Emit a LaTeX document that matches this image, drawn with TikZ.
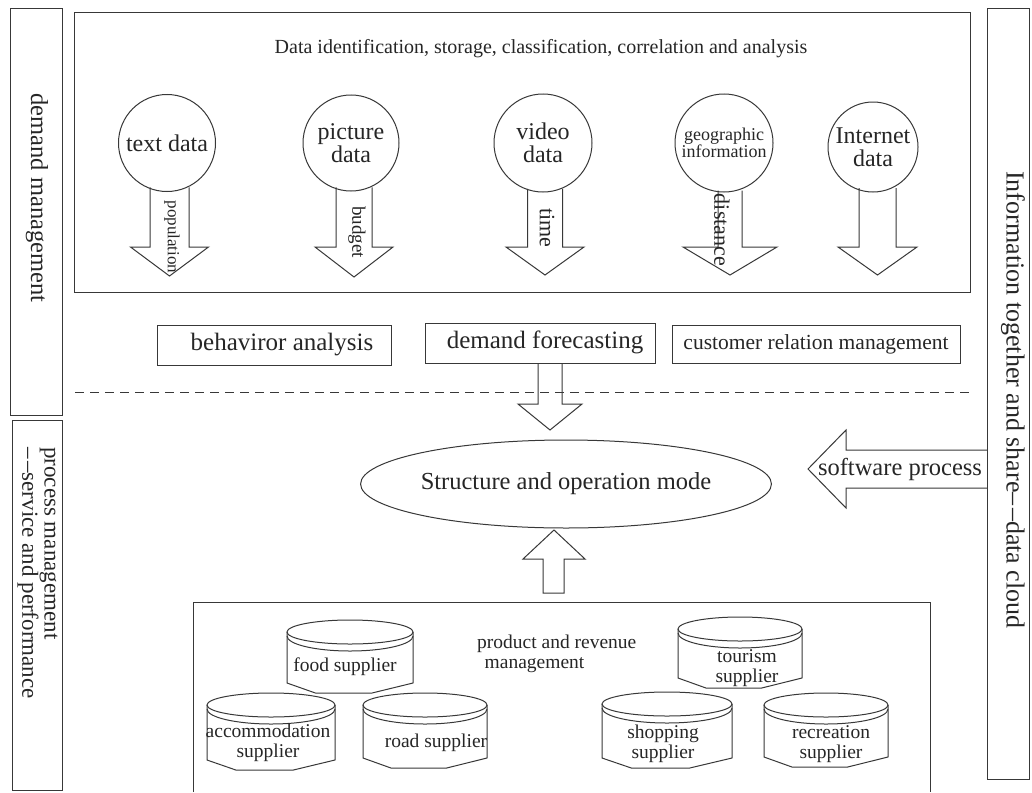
\documentclass[tikz,border=0pt]{standalone}
\usepackage{fontspec}
\setmainfont{Liberation Serif}
\usetikzlibrary{shapes.geometric,calc}
\newcommand\fsz[2]{\fontsize{#1}{#2}\selectfont}
\newcommand\ddash{\textendash\kern2.5pt\textendash}
\colorlet{lncol}{black!78}
\colorlet{txcol}{black!85}
\tikzset{
  ln/.style={draw=lncol, line width=1pt},
  bx/.style={ln, rectangle, inner sep=0pt},
  circ/.style={ln, circle, inner sep=0pt, align=center, text=txcol},
  lbl/.style={inner sep=0pt, text=txcol, align=center},
  vlbl/.style={lbl, rotate=-90},
}
% block arrow hanging from a circle: cx, shaft half, head half, circle cy, r, head base y, tip y
\newcommand\circarrow[7]{%
  \draw[ln, line join=miter] ({#1-#2},{#4+sqrt(#5*#5-#2*#2)}) -- ({#1-#2},#6) -- ({#1-#3},#6) -- (#1,#7)
    -- ({#1+#3},#6) -- ({#1+#2},#6) -- ({#1+#2},{#4+sqrt(#5*#5-#2*#2)});}
% cylinder: cx, top ellipse centre y, half width, bottom y
\newcommand\cyl[4]{%
  \draw[ln, line join=round] ({#1-#3},#2) -- ({#1-#3},{#4-10}) -- ({#1-0.55*#3},#4) -- ({#1+0.35*#3},#4)
    -- ({#1+#3},{#4-10}) -- ({#1+#3},#2);
  \draw[ln] (#1,#2) ellipse [x radius=#3, y radius=12];
  \draw[ln] ({#1-#3},{#2+4}) arc[start angle=180, end angle=0, x radius=#3, y radius=15];}
\begin{document}
\begin{tikzpicture}[x=1pt,y=-1pt]
\useasboundingbox[fill=white] (0,0) rectangle (1032,792);

% side bars
\node[bx, minimum width=52pt, minimum height=406pt] (dmbar) at (36,212) {};
\node[vlbl, font=\fsz{24.5}{24.5}] (dmtext) at (37,198) {demand management};
\node[bx, minimum width=50pt, minimum height=370pt] (pmbar) at (37,605) {};
\node[vlbl, font=\fsz{23}{21}, align=left, anchor=west] (pmtext) at (37.5,447) {process management\\\ddash service and performance};
\node[bx, minimum width=42pt, minimum height=770pt] (rb) at (1008,394) {};
\node[vlbl, font=\fsz{26}{26}] (rbtext) at (1013,400) {Information together and share\ddash data cloud};

% top box
\node[bx, minimum width=896pt, minimum height=279pt] (topbox) at (522,152.5) {};
\node[lbl, font=\fsz{20}{20}] (title) at (541,49) {Data identification, storage, classification, correlation and analysis};

% circles
\node[circ, minimum size=97pt, font=\fsz{24}{23}] (c1) at (167,143) {text data};
\node[circ, minimum size=96pt, font=\fsz{24}{23}] (c2) at (351,143) {picture\\data};
\node[circ, minimum size=98pt, font=\fsz{24}{23}] (c3) at (543,143) {video\\data};
\node[circ, minimum size=98pt, font=\fsz{18}{17}] (c4) at (724,143) {geographic\\information};
\node[circ, minimum size=90pt, font=\fsz{24}{23}] (c5) at (873,147) {Internet\\data};

\circarrow{169.5}{19.5}{39}{143}{48.5}{247}{276}
\circarrow{354}{18}{39}{143}{48}{247}{277}
\circarrow{545}{17.5}{39}{143}{49}{247}{275}
\circarrow{730}{12}{47}{143}{49}{247}{275}
\circarrow{877.5}{18.5}{39.5}{147}{45}{247}{275}
\node[vlbl, font=\fsz{17}{17}] (l1) at (172,237) {population};
\node[vlbl, font=\fsz{19}{19}] (l2) at (357,232) {budget};
\node[vlbl, font=\fsz{22}{22}] (l3) at (547,228) {time};
\node[vlbl, font=\fsz{22}{22}] (l4) at (722,230) {distance};

% middle boxes
\node[bx, minimum width=234pt, minimum height=40pt] (ba) at (274,345) {};
\node[lbl, font=\fsz{25}{25}] (batext) at (282,345) {behaviror analysis};
\node[bx, minimum width=230pt, minimum height=40pt] (df) at (540,343) {};
\node[lbl, font=\fsz{25}{25}] (dftext) at (545,342) {demand forecasting};
\node[bx, minimum width=288pt, minimum height=38pt] (crm) at (816,344) {};
\node[lbl, font=\fsz{21.5}{21.5}] (crmtext) at (816,344) {customer relation management};

% dashed separator
\coordinate (dl) at (75,392);
\coordinate (dr) at (970,392);
\draw[ln, dash pattern=on 9pt off 6pt] (dl) -- (dr);

% down arrow from demand forecasting
\draw[ln, line join=miter] (538,363) -- (538,404) -- (518,404) -- (550,430) -- (582,404) -- (562,404) -- (562,363);

% ellipse
\node[ln, ellipse, minimum width=364pt, minimum height=88pt, inner sep=0pt, text=txcol, font=\fsz{24.5}{24.5}] (som) at (566,484) {Structure and operation mode};

% software process arrow
\draw[ln, line join=miter] (987,450) -- (846,450) -- (846,430) -- (808,469) -- (846,508) -- (846,488) -- (987,488);
\node[lbl, font=\fsz{24.5}{24.5}] (sp) at (900,469) {software process};

% up arrow
\draw[ln, line join=miter] (543,593) -- (543,559) -- (523,559) -- (554,530) -- (585,559) -- (564,559) -- (564,593) -- cycle;

% bottom box (open at the bottom edge of the picture)
\coordinate (bbl) at (193,792);
\coordinate (bbr) at (930,792);
\draw[ln] (bbl) -- (193,602) -- (930,602) -- (bbr);
\node[lbl, font=\fsz{19.5}{20}, align=left, anchor=west] (prm) at (477,654) {product and revenue\\\hspace*{7.5pt}management};

% cylinders
\cyl{350}{632}{63}{693}
\cyl{271}{705}{64}{770}
\cyl{425}{705}{62}{768}
\cyl{740}{629}{62}{688}
\cyl{667}{704}{65}{768}
\cyl{826}{705}{62}{767}
\node[lbl, font=\fsz{19.5}{20}] (food) at (345,667) {food supplier};
\node[lbl, font=\fsz{19.5}{20}] (acc) at (268,743) {accommodation\\supplier};
\node[lbl, font=\fsz{19.5}{20}] (road) at (436,743) {road supplier};
\node[lbl, font=\fsz{19.5}{20}] (tour) at (747,668) {tourism\\supplier};
\node[lbl, font=\fsz{19.5}{20}] (shop) at (663,744) {shopping\\supplier};
\node[lbl, font=\fsz{19.5}{20}] (rec) at (831,744) {recreation\\supplier};
\end{tikzpicture}
\end{document}
